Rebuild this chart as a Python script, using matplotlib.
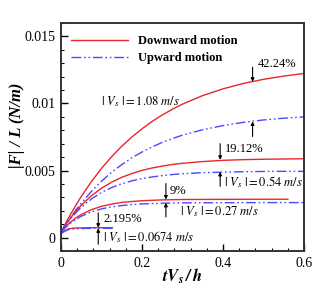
import matplotlib
matplotlib.use("Agg")
import matplotlib.pyplot as plt
from matplotlib.ticker import MultipleLocator

plt.rcParams['font.family'] = ['Liberation Serif', 'DejaVu Serif']
plt.rcParams['mathtext.fontset'] = 'stix'

xs = [0, 0.0125, 0.025, 0.0375, 0.05, 0.075, 0.1, 0.125, 0.15, 0.175, 0.2, 0.225, 0.25,
      0.275, 0.3, 0.35, 0.4, 0.45, 0.5, 0.55, 0.6]
# |Vs| = 1.08 m/s
down_108 = [0.0004, 0.00113, 0.00181, 0.00245, 0.00306, 0.00417, 0.00516, 0.00603, 0.00681,
            0.0075, 0.00811, 0.00866, 0.00914, 0.00957, 0.00995, 0.01059, 0.01109, 0.01149,
            0.0118, 0.01204, 0.01224]
up_108 = [0.0004, 0.001, 0.00156, 0.00208, 0.00256, 0.00344, 0.0042, 0.00487, 0.00544,
          0.00595, 0.00638, 0.00676, 0.0071, 0.00738, 0.00764, 0.00804, 0.00835, 0.00859,
          0.00877, 0.0089, 0.009]
# |Vs| = 0.54 m/s
down_054 = [0.0004, 0.00099, 0.00152, 0.00199, 0.00241, 0.00312, 0.00368, 0.00413, 0.00449,
            0.00478, 0.00501, 0.00519, 0.00533, 0.00545, 0.00554, 0.00567, 0.00576, 0.00581,
            0.00584, 0.00586, 0.00588]
up_054 = [0.0004, 0.00096, 0.00145, 0.00188, 0.00226, 0.00288, 0.00336, 0.00373, 0.00401,
          0.00423, 0.0044, 0.00452, 0.00462, 0.0047, 0.00476, 0.00484, 0.00488, 0.00491,
          0.00493, 0.00494, 0.00494]
# |Vs| = 0.27 m/s
x_027_down = [0, 0.0125, 0.025, 0.0375, 0.05, 0.075, 0.1, 0.125, 0.15, 0.175, 0.2, 0.25,
              0.3, 0.4, 0.5, 0.56]
down_027 = [0.0004, 0.00083, 0.00119, 0.00148, 0.00172, 0.00208, 0.00233, 0.0025, 0.00262,
            0.00269, 0.00275, 0.00281, 0.00284, 0.00285, 0.00286, 0.00286]
x_027_up = [0, 0.0125, 0.025, 0.0375, 0.05, 0.075, 0.1, 0.125, 0.15, 0.175, 0.2, 0.25,
            0.3, 0.4, 0.5, 0.6]
up_027 = [0.0004, 0.00079, 0.00111, 0.00137, 0.00159, 0.00191, 0.00214, 0.00229, 0.00239,
          0.00246, 0.00251, 0.00256, 0.00259, 0.0026, 0.00261, 0.00261]
# |Vs| = 0.0674 m/s
x_0674 = [0, 0.005, 0.01, 0.015, 0.02, 0.03, 0.04, 0.06, 0.08, 0.127]
down_0674 = [0.0003, 0.00042, 0.00052, 0.0006, 0.00066, 0.0007, 0.00072, 0.00073, 0.00074,
             0.00074]
up_0674 = [0.0003, 0.0004, 0.00048, 0.00055, 0.0006, 0.00064, 0.00066, 0.00068, 0.00069,
           0.00069]

red = '#e8262b'
blue = '#4a4aff'
dashdot = (0, (7, 2, 1.2, 2, 1.2, 2))

fig = plt.figure(figsize=(3.32, 2.86), dpi=100)
ax = fig.add_axes([0.1837, 0.1224, 0.7320, 0.7972])

kw_r = dict(color=red, lw=1.0, solid_joinstyle='round')
kw_b = dict(color=blue, lw=1.0, ls=dashdot)
ax.plot(xs, down_108, label='Downward motion', **kw_r)
ax.plot(xs, up_108, label='Upward motion', **kw_b)
ax.plot(xs, down_054, **kw_r)
ax.plot(xs, up_054, **kw_b)
ax.plot(x_027_down, down_027, **kw_r)
ax.plot(x_027_up, up_027, **kw_b)
ax.plot(x_0674, down_0674, **kw_r)
ax.plot(x_0674, up_0674, **kw_b)

ax.set_xlim(0, 0.6)
ax.set_ylim(-0.001, 0.016)
ax.set_xticks([0, 0.2, 0.4, 0.6], ['0', '0.2', '0.4', '0.6'])
ax.set_yticks([0, 0.005, 0.01, 0.015], ['0', '0.005', '0.01', '0.015'])
ax.xaxis.set_minor_locator(MultipleLocator(0.04))
ax.yaxis.set_minor_locator(MultipleLocator(0.001))
ax.tick_params(which='both', direction='in', top=False, right=False, labelsize=10, pad=4)
ax.tick_params(which='major', length=5, width=1)
ax.tick_params(which='minor', length=2.5, width=0.8)
for s in ax.spines.values():
    s.set_linewidth(1.4)
    s.set_color('#333333')

ax.set_xlabel(r'$\mathbfit{tV_s\,/\,h}$', fontsize=12, labelpad=-2)
ax.set_ylabel('|F| / L (N/m)', fontsize=12, fontweight='bold', fontstyle='italic')
ax.yaxis.set_label_coords(-0.15, 0.55)

leg = ax.legend(loc='upper left', bbox_to_anchor=(0.0, 0.99), frameon=False,
                prop={'weight': 'bold', 'size': 9}, handlelength=4.55, handletextpad=0.8,
                labelspacing=0.4, borderaxespad=0.4)

ts = 9
ax.text(0.099, 0.01015, r'$|\ V_s\ | = 1.08\ m/s$', fontsize=ts, va='center')
ax.text(0.403, 0.00416, r'$|\ V_s\ | = 0.54\ m/s$', fontsize=ts, va='center')
ax.text(0.294, 0.00192, r'$|\ V_s\ | = 0.27\ m/s$', fontsize=ts, va='center')
ax.text(0.104, 0.00005, r'$|\ V_s\ | = 0.0674\ m/s$', fontsize=ts, va='center')

ax.text(0.486, 0.01296, '42.24%', fontsize=ts, va='center')
ax.text(0.405, 0.00664, '19.12%', fontsize=ts, va='center')
ax.text(0.269, 0.00346, '9%', fontsize=ts, va='center')
ax.text(0.105, 0.0014, '2.195%', fontsize=ts, va='center')

ap = dict(arrowstyle='-|>', lw=0.8, color='black', mutation_scale=5, shrinkA=0, shrinkB=0)
arrows = [
    (0.473, 0.0127, 0.01162), (0.473, 0.00754, 0.00866),
    (0.393, 0.0070, 0.0058), (0.393, 0.00383, 0.00490),
    (0.259, 0.00403, 0.00284), (0.259, 0.00154, 0.00259),
    (0.092, 0.00184, 0.00074), (0.092, -0.0005, 0.00069),
]
for xa, y0, y1 in arrows:
    ax.annotate('', xy=(xa, y1), xytext=(xa, y0), arrowprops=ap)

fig.savefig('out.png', dpi=100)
